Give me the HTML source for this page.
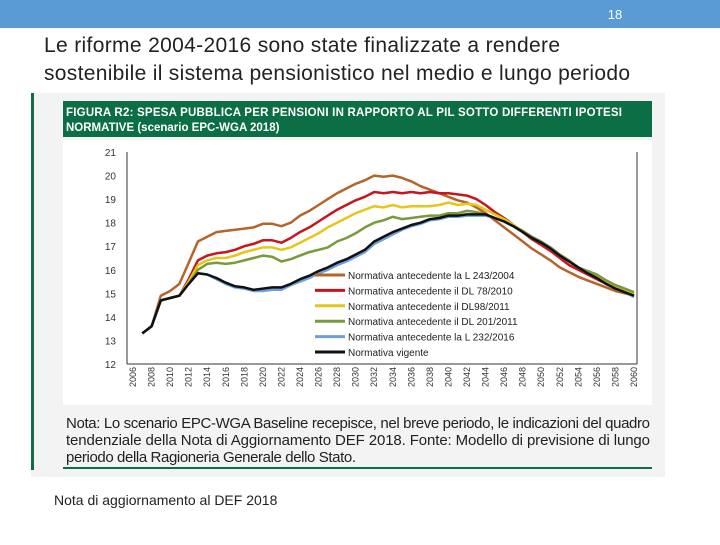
<!DOCTYPE html>
<html><head><meta charset="utf-8"><style>
body{margin:0;width:720px;height:540px;overflow:hidden;background:#fff;font-family:"Liberation Sans",sans-serif;}
</style></head><body>
<svg width="720" height="540" viewBox="0 0 720 540" xmlns="http://www.w3.org/2000/svg">
<rect x="0" y="0" width="720" height="28" fill="#5b9bd5"/>
<text x="615" y="19" font-size="13" fill="#fff" text-anchor="middle">18</text>
<text x="44" y="52" font-size="21" fill="#222" textLength="516">Le riforme 2004-2016 sono state finalizzate a rendere</text>
<text x="44" y="80" font-size="21" fill="#222" textLength="586">sostenibile il sistema pensionistico nel medio e lungo periodo</text>
<rect x="31" y="93" width="634" height="384" fill="#f3f3f3"/>
<rect x="31" y="93" width="3" height="377" fill="#0b6e45"/>
<rect x="63" y="101" width="589" height="36" fill="#0b6e45"/>
<text x="66" y="116" font-size="11.5" font-weight="bold" fill="#fff" textLength="556">FIGURA R2: SPESA PUBBLICA PER PENSIONI IN RAPPORTO AL PIL SOTTO DIFFERENTI IPOTESI</text>
<text x="66" y="131" font-size="11.5" font-weight="bold" fill="#fff">NORMATIVE (scenario EPC-WGA 2018)</text>
<rect x="63" y="140" width="589" height="265" fill="#fff"/>
<g id="chart"></g>
<text x="66" y="428" font-size="15" fill="#222" textLength="584">Nota: Lo scenario EPC-WGA Baseline recepisce, nel breve periodo, le indicazioni del quadro</text>
<text x="66" y="445" font-size="15" fill="#222" textLength="584">tendenziale della Nota di Aggiornamento DEF 2018. Fonte: Modello di previsione di lungo</text>
<text x="66" y="462" font-size="15" fill="#222" textLength="290">periodo della Ragioneria Generale dello Stato.</text>
<rect x="63" y="467" width="589" height="2" fill="#0b6e45"/>
<text x="54" y="505" font-size="14" fill="#222">Nota di aggiornamento al DEF 2018</text>
</svg>
<script>
const years=[2007,2008,2009,2010,2011,2012,2013,2014,2015,2016,2017,2018,2019,2020,2021,2022,2023,2024,2025,2026,2027,2028,2029,2030,2031,2032,2033,2034,2035,2036,2037,2038,2039,2040,2041,2042,2043,2044,2045,2046,2047,2048,2049,2050,2051,2052,2053,2054,2055,2056,2057,2058,2059,2060];
const sBrown=[13.3,13.6,14.9,15.1,15.4,16.3,17.2,17.4,17.6,17.65,17.7,17.75,17.8,17.95,17.95,17.85,18.0,18.3,18.5,18.75,19.0,19.25,19.45,19.65,19.8,20.0,19.95,20.0,19.9,19.75,19.55,19.4,19.25,19.1,18.95,18.85,18.65,18.4,18.1,17.8,17.5,17.2,16.9,16.65,16.4,16.1,15.9,15.7,15.55,15.4,15.25,15.1,15.0,14.9];
const sRed=[13.3,13.6,14.7,14.8,14.9,15.6,16.4,16.6,16.7,16.75,16.85,17.0,17.1,17.25,17.25,17.15,17.35,17.6,17.8,18.05,18.3,18.55,18.75,18.95,19.1,19.3,19.25,19.3,19.25,19.3,19.25,19.3,19.25,19.25,19.2,19.15,19.0,18.75,18.45,18.2,17.9,17.6,17.3,17.05,16.8,16.5,16.2,16.0,15.8,15.6,15.4,15.2,15.05,14.9];
const sYellow=[13.3,13.6,14.7,14.8,14.9,15.5,16.2,16.4,16.5,16.5,16.6,16.75,16.85,16.95,16.95,16.85,16.95,17.15,17.35,17.55,17.8,18.0,18.2,18.4,18.55,18.7,18.65,18.75,18.65,18.7,18.7,18.7,18.75,18.85,18.75,18.8,18.75,18.55,18.35,18.15,17.9,17.65,17.4,17.15,16.9,16.6,16.35,16.1,15.9,15.7,15.5,15.3,15.15,15.0];
const sGreen=[13.3,13.6,14.7,14.8,14.9,15.4,16.0,16.25,16.3,16.25,16.3,16.4,16.5,16.6,16.55,16.35,16.45,16.6,16.75,16.85,16.95,17.2,17.35,17.55,17.8,18.0,18.1,18.25,18.15,18.2,18.25,18.3,18.3,18.4,18.4,18.5,18.45,18.35,18.2,18.05,17.85,17.65,17.4,17.2,16.95,16.65,16.4,16.1,15.95,15.8,15.55,15.35,15.2,15.05];
const sBlue=[13.3,13.6,14.7,14.8,14.9,15.4,15.85,15.8,15.6,15.4,15.25,15.2,15.1,15.1,15.15,15.15,15.35,15.5,15.65,15.85,16.0,16.2,16.35,16.55,16.75,17.1,17.3,17.5,17.7,17.85,17.95,18.1,18.15,18.25,18.25,18.3,18.3,18.3,18.2,18.05,17.85,17.6,17.35,17.15,16.9,16.6,16.35,16.1,15.85,15.65,15.4,15.2,15.05,14.85];
const sBlack=[13.3,13.6,14.7,14.8,14.9,15.4,15.85,15.8,15.65,15.45,15.3,15.25,15.15,15.2,15.25,15.25,15.4,15.6,15.75,15.95,16.1,16.3,16.45,16.65,16.85,17.2,17.4,17.6,17.75,17.9,18.0,18.15,18.2,18.3,18.3,18.35,18.35,18.35,18.2,18.05,17.85,17.6,17.35,17.15,16.9,16.6,16.35,16.1,15.85,15.65,15.4,15.2,15.05,14.9];
const yTicks=[12,13,14,15,16,17,18,19,20,21];
const xTickYears=[2006,2008,2010,2012,2014,2016,2018,2020,2022,2024,2026,2028,2030,2032,2034,2036,2038,2040,2042,2044,2046,2048,2050,2052,2054,2056,2058,2060];
const legendLabels=["Normativa antecedente la L 243/2004","Normativa antecedente il DL 78/2010","Normativa antecedente il DL98/2011","Normativa antecedente  il DL 201/2011","Normativa antecedente la L 232/2016","Normativa vigente"];

const NS="http://www.w3.org/2000/svg";
const g=document.getElementById('chart');
const X=y=>133+(y-2006)*(634-133)/54;
const Y=v=>364-(v-12)*(364-152)/9;
function mk(t,a){const e=document.createElementNS(NS,t);for(const k in a)e.setAttribute(k,a[k]);g.appendChild(e);return e;}
let ax=mk('line',{x1:127,y1:152,x2:127,y2:364,stroke:'#333','stroke-width':1});


ax=mk('line',{x1:127,y1:364,x2:637,y2:364,stroke:'#333','stroke-width':1});


ax=mk('line',{x1:637,y1:152,x2:637,y2:364,stroke:'#333','stroke-width':1});


yTicks.forEach(v=>{
  const t=mk('text',{x:116,y:Y(v)+4,'font-size':10,'text-anchor':'end',fill:'#333','font-family':'Liberation Sans'});
  t.textContent=v;
  
  
});
xTickYears.forEach(yr=>{
  const x=X(yr);
  const t=mk('text',{x:x+3,y:367,'font-size':9,'text-anchor':'end',fill:'#333',transform:`rotate(-90 ${x+3} 367)`,'font-family':'Liberation Sans'});
  t.textContent=yr;
  
  
});
const series=[[sBrown,'#b5652a'],[sRed,'#c8141c'],[sYellow,'#e6c618'],[sGreen,'#779a3a'],[sBlue,'#6d9fd8'],[sBlack,'#111']];
const names=['line-l243-2004','line-dl78-2010','line-dl98-2011','line-dl201-2011','line-l232-2016','line-vigente'];
series.forEach((s,i)=>{
  const d=s[0].map((v,j)=>(j?'L':'M')+X(years[j]).toFixed(1)+' '+Y(v).toFixed(1)).join(' ');
  const p=mk('path',{d:d,fill:'none',stroke:s[1],'stroke-width':2.5,'stroke-linejoin':'round'});
  
  
});
legendLabels.forEach((lab,i)=>{
  const y=275+i*15.4;
  const l=mk('line',{x1:315,y1:y,x2:345,y2:y,stroke:series[i][1],'stroke-width':3});
  
  
  const t=mk('text',{x:348,y:y+4,'font-size':10,fill:'#222','font-family':'Liberation Sans'});
  t.textContent=lab;
  
  
});
</script>
</body></html>
